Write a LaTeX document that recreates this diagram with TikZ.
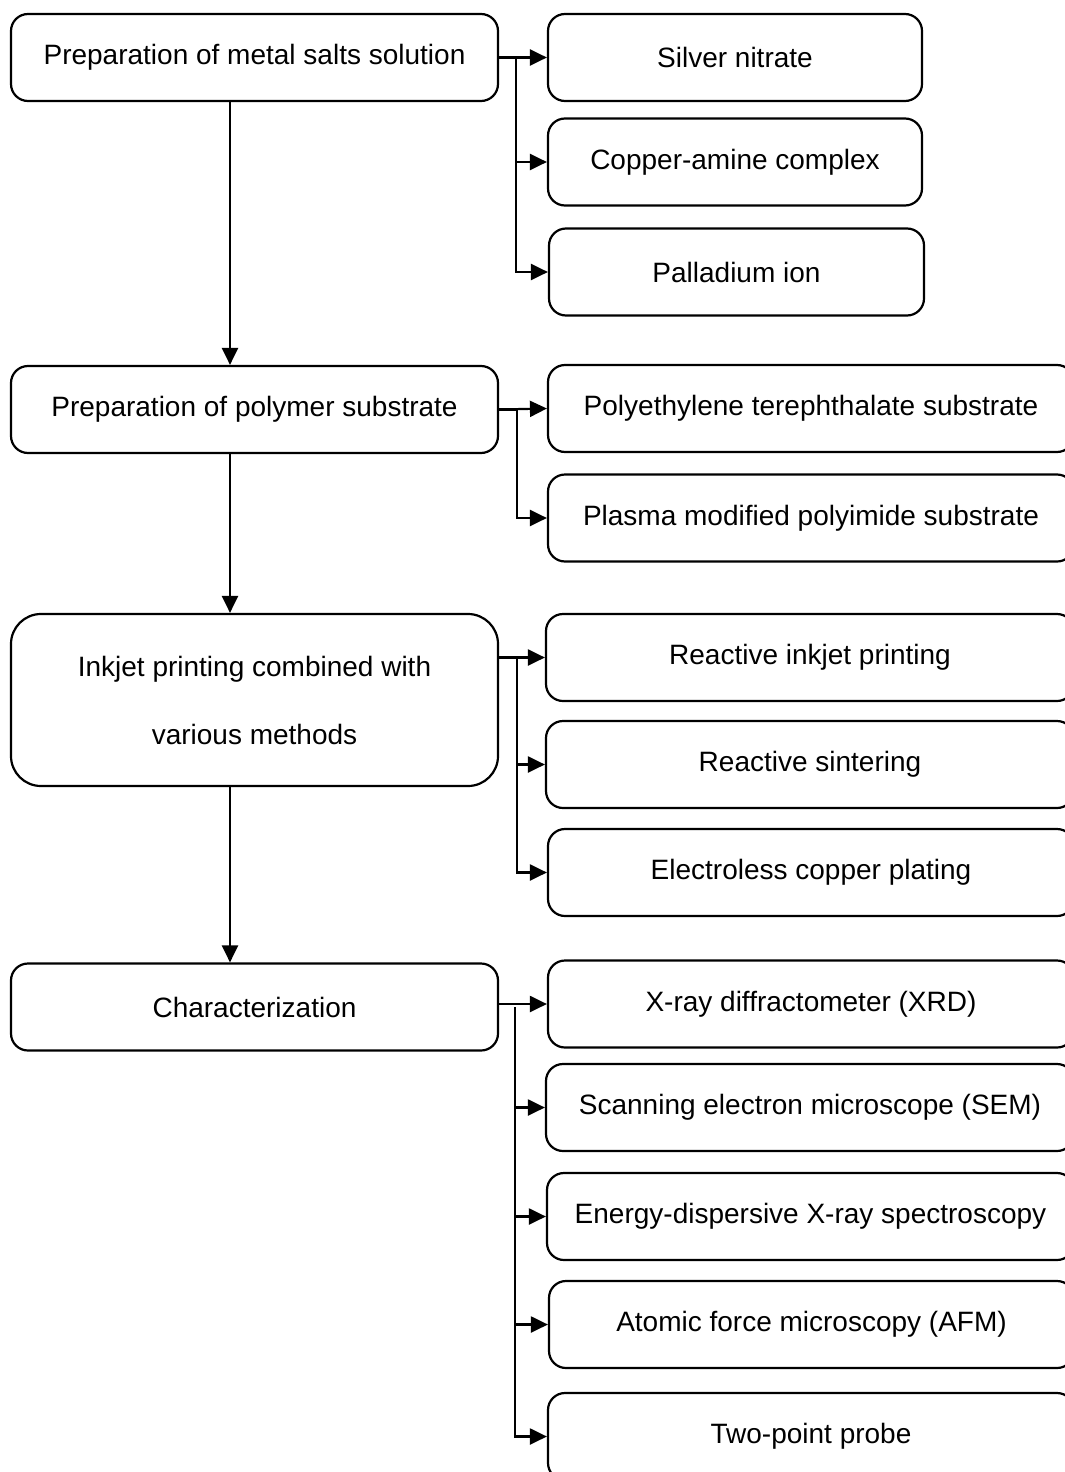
\documentclass[tikz,border=0pt]{standalone}
\usepackage{fontspec}
\setmainfont{Liberation Sans}
\usetikzlibrary{arrows.meta,calc}
\newcommand{\clrline}{black}
\tikzset{box/.style={draw=\clrline, rounded corners=17pt, line width=2.2pt, align=center, inner sep=0pt, minimum height=87pt}}

\begin{document}
\begin{tikzpicture}[x=1pt, y=-1pt, line width=2.2pt, >={Triangle[length=17pt,width=16pt]},
    font=\fontsize{28}{68}\selectfont]
    \useasboundingbox (0,0) rectangle (1065,1472);
    \clip (0,0) rectangle (1065,1472);

    %main steps
    \node[box, minimum width=487pt] (m1) at (254.5,57.5) {Preparation of metal salts solution};
    \node[box, minimum width=487pt] (m2) at (254.5,409.5) {Preparation of polymer substrate};
    \node[box, minimum width=487pt, minimum height=172pt, rounded corners=30pt] (m3) at (254.5,700) {Inkjet printing combined with\\various methods};
    \node[box, minimum width=487pt] (m4) at (254.5,1007) {Characterization};

    %sub steps
    \foreach \i/\x/\y/\w/\t in {1/735/57.5/374/Silver nitrate,
        2/735/162/374/Copper-amine complex,
        3/736.5/272/375/Palladium ion,
        4/811/408.5/526/Polyethylene terephthalate substrate,
        5/811/518/526/Plasma modified polyimide substrate,
        6/810/657.5/528/Reactive inkjet printing,
        7/810/764.5/528/Reactive sintering,
        8/811/872.5/526/Electroless copper plating,
        9/811/1004/526/X-ray diffractometer (XRD),
        10/810/1107.5/528/Scanning electron microscope (SEM),
        11/810.5/1216.5/527/Energy-dispersive X-ray spectroscopy,
        12/811.5/1324.5/525/Atomic force microscopy (AFM),
        13/811/1436.5/526/Two-point probe} {
        \node[box, minimum width=\w pt] (s\i) at (\x,\y) {\t};
    }

    %main flow
    \foreach \a/\b in {m1/m2, m2/m3, m3/m4} {
        \draw[->] ([xshift=-24.5pt]\a.south) -- ([xshift=-24.5pt]\b.north);
    }

    %branches
    \draw[->] (m1.east) -- (s1.west);
    \foreach \j in {2,3} {
        \draw[->] (m1.east) -- ++(17,0) |- (s\j.west);
    }
    \draw[->] (m2.east) -- (s4.west);
    \draw[->] (m2.east) -- ++(18,0) |- (s5.west);
    \draw[->] (m3.east |- s6.west) -- (s6.west);
    \foreach \j in {7,8} {
        \draw[->] (m3.east |- s6.west) -- ++(18,0) |- (s\j.west);
    }
    \draw[->] (m4.east |- s9.west) -- (s9.west);
    \foreach \j in {10,...,13} {
        \draw[->] (m4.east) ++(16,0) |- (s\j.west);
    }
\end{tikzpicture}
\end{document}
